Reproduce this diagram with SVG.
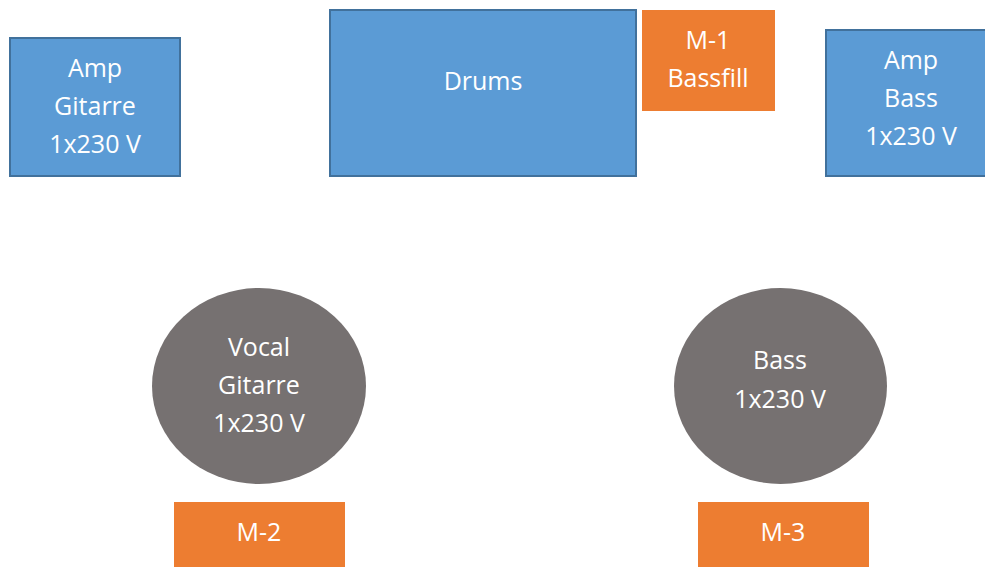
<svg xmlns="http://www.w3.org/2000/svg" width="985" height="567" viewBox="0 0 985 567">
<style>
.blue{fill:#5B9BD5;stroke:#41719C;stroke-width:2}
.orange{fill:#ED7D31}
.gray{fill:#767171}
text{font-family:"Open Sans","Liberation Sans",sans-serif;font-size:25px;fill:#FFFFFF;text-anchor:middle}
</style>
<rect width="985" height="567" fill="#FFFFFF"/>
<g id="amp-gitarre">
<rect class="blue" x="10" y="38" width="170" height="138"/>
<text x="95" y="77">Amp</text>
<text x="95" y="115">Gitarre</text>
<text x="95" y="153">1x230 V</text>
</g>
<g id="drums">
<rect class="blue" x="330" y="10" width="306" height="166"/>
<text x="483" y="90">Drums</text>
</g>
<g id="m1">
<rect class="orange" x="642" y="10" width="133" height="101"/>
<text x="708" y="49">M-1</text>
<text x="708" y="87">Bassfill</text>
</g>
<g id="amp-bass">
<rect class="blue" x="826" y="30" width="170" height="146"/>
<text x="911" y="69">Amp</text>
<text x="911" y="107">Bass</text>
<text x="911" y="145">1x230 V</text>
</g>
<g id="vocal">
<ellipse class="gray" cx="259" cy="386" rx="107" ry="98"/>
<text x="259" y="356">Vocal</text>
<text x="259" y="394">Gitarre</text>
<text x="259" y="432">1x230 V</text>
</g>
<g id="bass">
<ellipse class="gray" cx="780.5" cy="386" rx="106.5" ry="98"/>
<text x="780" y="369">Bass</text>
<text x="780" y="408">1x230 V</text>
</g>
<g id="m2">
<rect class="orange" x="174" y="502" width="171" height="65"/>
<text x="259" y="541">M-2</text>
</g>
<g id="m3">
<rect class="orange" x="698" y="502" width="171" height="65"/>
<text x="783" y="541">M-3</text>
</g>
<g id="connectors"></g>
</svg>
